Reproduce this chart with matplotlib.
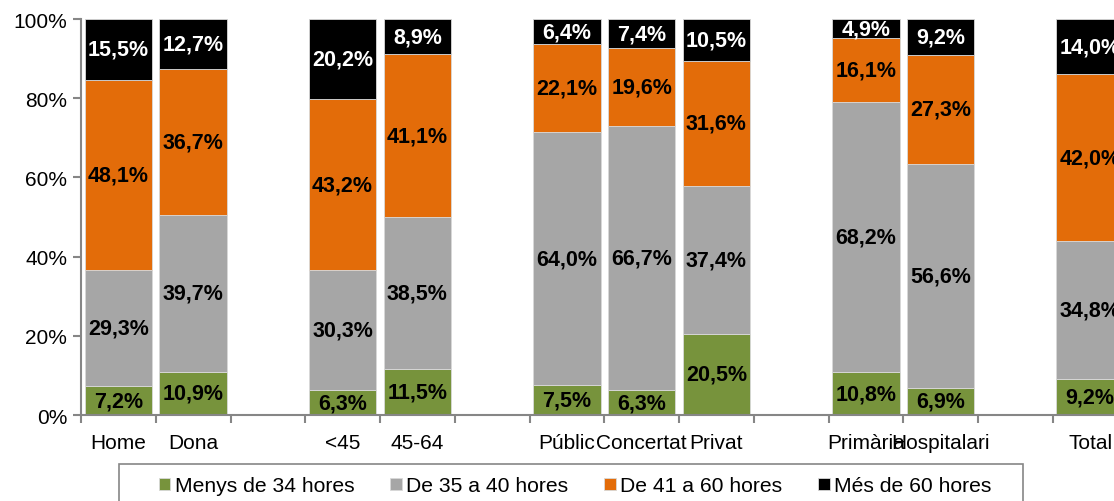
import matplotlib
matplotlib.use("Agg")
import matplotlib.pyplot as plt
from matplotlib.patches import Rectangle
import numpy as np

plt.rcParams['font.family'] = ['Liberation Sans', 'DejaVu Sans']

categories = ["Home", "Dona", "", "<45", "45-64", "", "Públic", "Concertat", "Privat", "",
              "Primària", "Hospitalari", "", "Total"]
series_names = ["Menys de 34 hores", "De 35 a 40 hores", "De 41 a 60 hores", "Més de 60 hores"]
menys34 = [7.2, 10.9, None, 6.3, 11.5, None, 7.5, 6.3, 20.5, None, 10.8, 6.9, None, 9.2]
de35a40 = [29.3, 39.7, None, 30.3, 38.5, None, 64.0, 66.7, 37.4, None, 68.2, 56.6, None, 34.8]
de41a60 = [48.1, 36.7, None, 43.2, 41.1, None, 22.1, 19.6, 31.6, None, 16.1, 27.3, None, 42.0]
mes60 = [15.5, 12.7, None, 20.2, 8.9, None, 6.4, 7.4, 10.5, None, 4.9, 9.2, None, 14.0]
yticks = [0, 20, 40, 60, 80, 100]

colors = ["#77933C", "#A6A6A6", "#E36C09", "#000000"]
text_colors = ["black", "black", "black", "white"]

W, H = 1114, 502
fig = plt.figure(figsize=(W/100, H/100), dpi=100)
ax = fig.add_axes([81/W, 1-416/H, 14*74.75/W, (416-20)/H])

series = [menys34, de35a40, de41a60, mes60]
x = np.arange(len(categories))
bottom = np.zeros(len(categories))
handles = []
for s, name, c, tc in zip(series, series_names, colors, text_colors):
    vals = np.array([v if v is not None else 0 for v in s], dtype=float)
    mask = np.array([v is not None for v in s])
    b = ax.bar(x[mask], vals[mask], bottom=bottom[mask], width=0.9, color=c,
               edgecolor="#D9D9D9", linewidth=0.6, label=name)
    handles.append(b)
    for xi, v, bt in zip(x[mask], vals[mask], bottom[mask]):
        ax.text(xi, bt + v/2, f"{v:.1f}%".replace(".", ","), ha="center", va="center",
                fontsize=15.5, fontweight="bold", color=tc)
    bottom = bottom + vals

ax.set_xlim(-0.5, len(categories) - 0.5)
ax.set_ylim(0, 100)
ax.set_yticks(yticks)
ax.set_yticklabels([f"{t}%" for t in yticks], fontsize=15)
ax.set_xticks(x)
ax.set_xticklabels(categories, fontsize=15)
ax.set_xticks(np.arange(-0.5, len(categories)), minor=True)
ax.tick_params(axis="x", which="major", length=0, pad=13)
ax.tick_params(axis="x", which="minor", length=6, color="#868686", width=1.5)
ax.tick_params(axis="y", length=6, color="#868686", width=1.5, pad=4)
for sp in ["top", "right"]:
    ax.spines[sp].set_visible(False)
for sp in ["left", "bottom"]:
    ax.spines[sp].set_color("#868686")
    ax.spines[sp].set_linewidth(1.5)

leg = fig.legend(handles=handles, labels=series_names, loc="center",
                 bbox_to_anchor=(575/W, 1-487/H),
                 ncol=4, fontsize=15.2, frameon=False,
                 handlelength=0.55, handleheight=0.55, handletextpad=0.2, columnspacing=1.7,
                 borderpad=0, borderaxespad=0)

frame = Rectangle((119/W, -10/H), (1023-119)/W, (512-465)/H, transform=fig.transFigure,
                  fill=False, edgecolor="#868686", linewidth=1.2, clip_on=False)
fig.patches.append(frame)

fig.savefig("out.png", dpi=100)
